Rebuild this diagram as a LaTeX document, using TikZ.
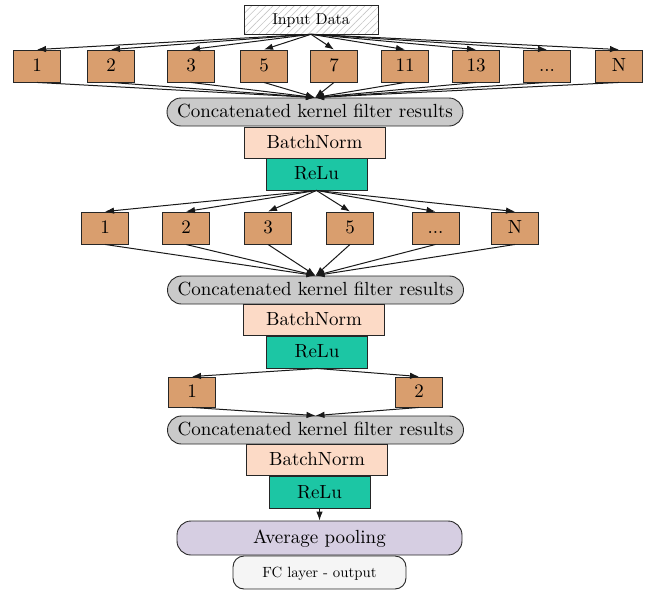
\documentclass[tikz,border=0pt]{standalone}
\usepackage{fontspec}
\setmainfont{lmroman10-regular.otf}
\usetikzlibrary{arrows.meta,patterns.meta}
\definecolor{kernc}{RGB}{217,158,110}
\definecolor{concc}{RGB}{202,202,202}
\definecolor{bnc}{RGB}{252,218,198}
\definecolor{reluc}{RGB}{28,198,164}
\definecolor{poolc}{RGB}{214,206,226}
\definecolor{fcc}{RGB}{245,245,245}
\newcommand\mydots{...}
\begin{document}
\begin{tikzpicture}[x=1pt,y=-1pt,
  base/.style={draw=black!85,line width=0.9pt,inner sep=0pt,
    font=\fontsize{19}{22}\selectfont,text height=12.8pt,text depth=1.5pt},
  kern/.style={base,fill=kernc,minimum width=47pt,minimum height=32pt},
  conc/.style={base,fill=concc,rounded corners=14pt,minimum width=296pt,minimum height=28pt},
  bn/.style={base,fill=bnc,minimum width=141pt,minimum height=31pt},
  relu/.style={base,fill=reluc,minimum width=101pt,minimum height=32pt},
  pool/.style={base,fill=poolc,rounded corners=14pt,minimum width=285pt,minimum height=34pt},
  fc/.style={base,fill=fcc,rounded corners=11pt,minimum width=173pt,minimum height=33pt,
    font=\fontsize{14.8}{17}\selectfont,text height=10pt,text depth=1pt},
  inp/.style={base,pattern={Lines[angle=45,distance=5pt,line width=0.6pt]},pattern color=gray!45,
    minimum width=134pt,minimum height=29pt,font=\fontsize{15.8}{18}\selectfont,
    text height=10.8pt,text depth=1pt},
  arr/.style={-{Latex[length=9pt,width=6.5pt]},line width=1pt,black!90}]
\useasboundingbox (0,0) rectangle (654,590);

% input
\node[inp] (in) at (311,19.5) {Input Data};

% row 1
\foreach \x/\t/\n in {37/1/a1,111/2/a2,191/3/a3,264/5/a5,334/7/a7,405/11/a11,476/13/a13,547/{\mydots}/ad,619/N/aN}
  \node[kern] (\n) at (\x,66) {\t};

\node[conc] (c1) at (315,112) {Concatenated kernel filter results};
\node[bn] (b1) at (314.5,142.5) {BatchNorm};
\node[relu] (r1) at (316.5,174) {ReLu};

% row 2
\foreach \x/\t/\n in {105/1/e1,186/2/e2,268/3/e3,350/5/e5,435.5/{\mydots}/ed,515/N/eN}
  \node[kern] (\n) at (\x,228) {\t};

\node[conc] (c2) at (315.5,290) {Concatenated kernel filter results};
\node[bn] (b2) at (314,319.5) {BatchNorm};
\node[relu] (r2) at (317,352) {ReLu};

% row 3
\node[kern,minimum height=30pt] (f1) at (192,392) {1};
\node[kern,minimum height=30pt] (f2) at (419,392) {2};

\node[conc] (c3) at (315.5,430) {Concatenated kernel filter results};
\node[bn] (b3) at (317,460) {BatchNorm};
\node[relu] (r3) at (319.5,492.5) {ReLu};

\node[pool] (pool) at (319.5,538) {Average pooling};
\node[fc] (fc) at (319.5,572.5) {FC layer - output};

% connectors
\foreach \n in {a1,a2,a3,a5,a7,a11,a13,ad,aN}{
  \draw[arr] (in.south) -- (\n.north);
  \draw[arr] (\n.south) -- (c1.north);
}
\foreach \n in {e1,e2,e3,e5,ed,eN}{
  \draw[arr] (r1.south) -- (\n.north);
  \draw[arr] (\n.south) -- (c2.north);
}
\foreach \n in {f1,f2}{
  \draw[arr] (r2.south) -- (\n.north);
  \draw[arr] (\n.south) -- (c3.north);
}
\draw[arr] (r3.south) -- (pool.north);
\end{tikzpicture}
\end{document}
